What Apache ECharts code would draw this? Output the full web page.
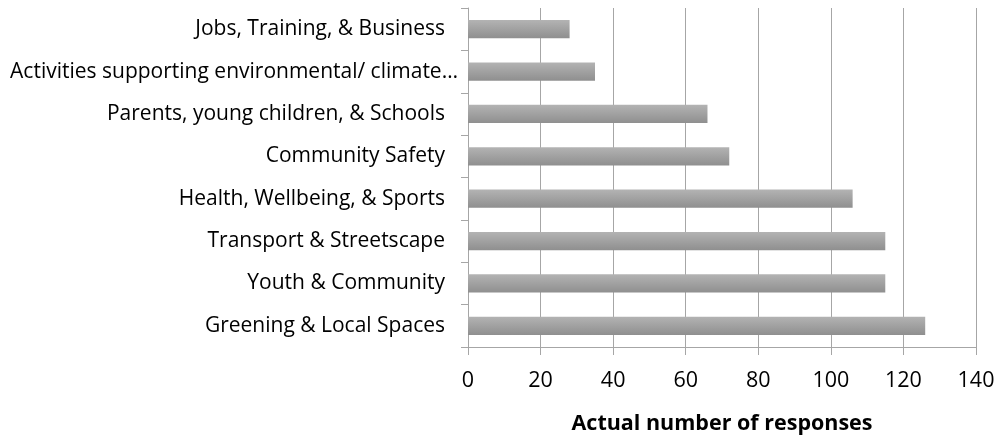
<!DOCTYPE html>
<html>
<head>
<meta charset="utf-8">
<script src="https://cdn.jsdelivr.net/npm/echarts@6/dist/echarts.min.js"></script>
<style>
html,body{margin:0;padding:0;background:#fff;}
#chart{width:1003px;height:441px;}
</style>
</head>
<body>
<div id="chart"></div>
<script>
const categories = [
  'Jobs, Training, & Business',
  'Activities supporting environmental/ climate…',
  'Parents, young children, & Schools',
  'Community Safety',
  'Health, Wellbeing, & Sports',
  'Transport & Streetscape',
  'Youth & Community',
  'Greening & Local Spaces'
];
const responses = [28, 35, 66, 72, 106, 115, 115, 126];
const xTicks = [0, 20, 40, 60, 80, 100, 120, 140];
const axisTitle = 'Actual number of responses';

const chart = echarts.init(document.getElementById('chart'), null, {renderer: 'canvas'});
const FONT = '"Open Sans"';
chart.setOption({
  animation: false,
  backgroundColor: '#ffffff',
  grid: {left: 468, right: 27, top: 8, bottom: 94, containLabel: false},
  xAxis: {
    type: 'value',
    min: xTicks[0],
    max: xTicks[xTicks.length - 1],
    interval: xTicks[1] - xTicks[0],
    axisLine: {show: true, lineStyle: {color: '#a6a6a6', width: 1}},
    axisTick: {show: true, length: 8, lineStyle: {color: '#a6a6a6'}},
    splitLine: {show: true, lineStyle: {color: '#a6a6a6', width: 1}},
    axisLabel: {color: '#000', fontFamily: FONT, fontSize: 21.5, margin: 23},
    name: axisTitle,
    nameLocation: 'middle',
    nameGap: 66,
    nameTextStyle: {color: '#000', fontFamily: FONT, fontSize: 21.5, fontWeight: 'bold'}
  },
  yAxis: {
    type: 'category',
    data: categories,
    inverse: true,
    axisLine: {show: true, lineStyle: {color: '#a6a6a6', width: 1}},
    axisTick: {show: true, length: 7, alignWithLabel: false, lineStyle: {color: '#a6a6a6'}},
    splitLine: {show: false},
    axisLabel: {
      color: '#000', fontFamily: FONT, fontSize: 21, margin: 10,
      formatter: function (v) {
        return v.endsWith('…') ? '{b|' + v + '}' : '{a|' + v + '}';
      },
      rich: {
        a: {color: '#000', fontFamily: FONT, fontSize: 21, padding: [0, 13, 0, 0]},
        b: {color: '#000', fontFamily: FONT, fontSize: 21}
      }
    }
  },
  series: [{
    type: 'bar',
    data: responses,
    barCategoryGap: '57%',
    itemStyle: {
      color: new echarts.graphic.LinearGradient(0, 0, 0, 1, [
        {offset: 0, color: '#b3b3b3'},
        {offset: 1, color: '#8f8f8f'}
      ])
    }
  }]
});
</script>
</body>
</html>
